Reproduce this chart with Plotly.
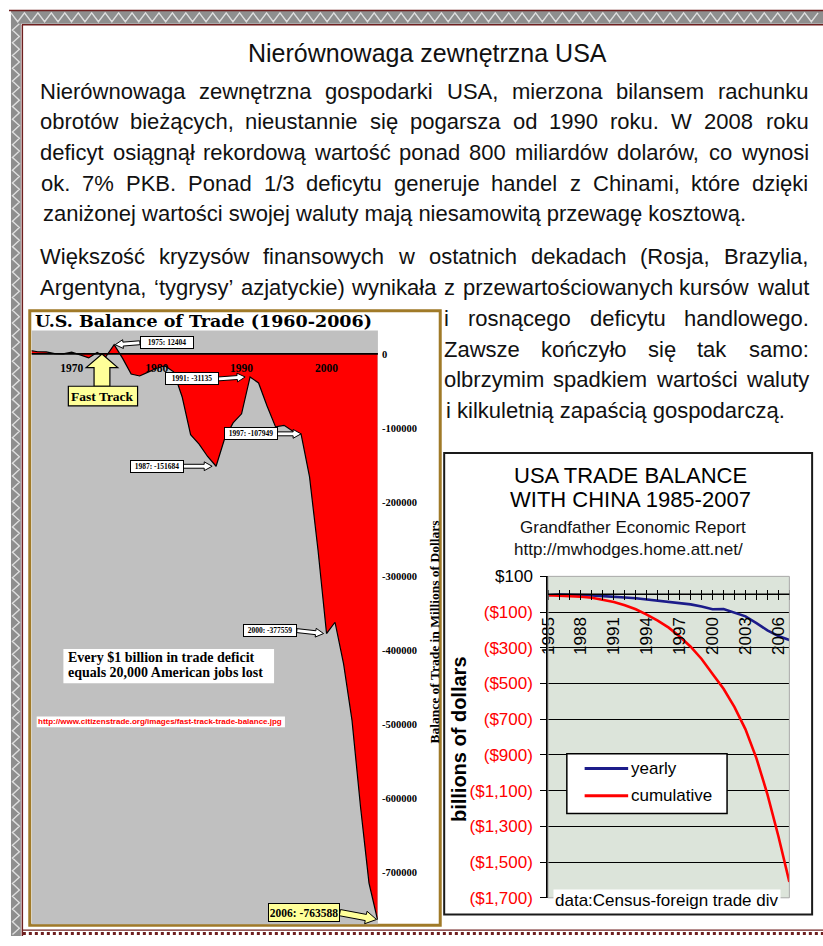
import math
import plotly.graph_objects as go

W, H = 823, 946

# ---------------- data ----------------
# U.S. balance of trade (goods & services), millions of dollars
trade_years = list(range(1965, 2007))
trade_balance = [4700, 2900, 2600, 300, 100, 2300, -1300, -5400, 1900, -4300,
                 12404, -6100, -27200, -29800, -24600, -19400, -16200, -24200, -57800, -109100,
                 -121900, -138500, -151684, -114600, -93100, -80900, -31135, -39200, -70300, -98500,
                 -96400, -104100, -107949, -166100, -265100, -377559, -362300, -418000, -494800, -611300,
                 -714400, -763588]
trade_y_ticks = [0, -100000, -200000, -300000, -400000, -500000, -600000, -700000]
trade_decades = [1970, 1980, 1990, 2000]

# U.S. trade balance with China, billions of dollars
china_years = list(range(1985, 2008))
china_yearly = [-6.0, -1.7, -2.8, -3.5, -6.2, -10.4, -12.7, -18.3, -22.8, -29.5, -33.8, -39.5,
                -49.7, -56.9, -68.7, -83.8, -83.1, -103.1, -124.1, -162.3, -202.3, -234.1, -256.2]
china_cumulative = [-6.0, -7.7, -10.5, -14.0, -20.2, -30.6, -43.3, -61.6, -84.4, -113.9, -147.7,
                    -187.2, -236.9, -293.8, -362.5, -446.3, -529.4, -632.5, -756.6, -918.9,
                    -1121.2, -1355.3, -1611.5]
china_y_ticks = [100, -100, -300, -500, -700, -900, -1100, -1300, -1500, -1700]
china_label_years = [1985, 1988, 1991, 1994, 1997, 2000, 2003, 2006]

page_title = "Nierównowaga zewnętrzna USA"
para_lines = [
    "Nierównowaga zewnętrzna gospodarki USA, mierzona bilansem rachunku",
    "obrotów bieżących, nieustannie się pogarsza od 1990 roku.  W 2008 roku",
    "deficyt osiągnął rekordową wartość ponad 800 miliardów dolarów, co wynosi",
    "ok. 7% PKB. Ponad 1/3 deficytu generuje handel z Chinami, które dzięki",
    "zaniżonej wartości swojej waluty mają niesamowitą przewagę kosztową.",
    "Większość kryzysów finansowych w ostatnich dekadach (Rosja, Brazylia,",
    "Argentyna, ‘tygrysy’ azjatyckie) wynikała z przewartościowanych kursów walut",
    "i rosnącego deficytu handlowego.",
    "Zawsze kończyło się tak samo:",
    "olbrzymim spadkiem wartości waluty",
    "i kilkuletnią zapaścią gospodarczą.",
]

SANS = "Liberation Sans, Arial, sans-serif"
SERIF = "Liberation Serif, Times New Roman, serif"
HEAVY = "DejaVu Serif, Liberation Serif, serif"


def fx(x):
    return x / W


def fy(y):
    return 1 - y / H


# Arial / Liberation Sans advance widths (1/1000 em) for justified layout
_w = {}
for chars, val in [(" ,.:;/!fIt", 278), ("ijl‘’ł", 222), ("r()-", 333), ("csvxyzkJśźżć", 500),
                   ("w", 722), ("m", 833), ("%", 889), ("M", 833), ("W", 944),
                   ("ABEKPSVXYŚ", 667), ("CDHNRUw", 722), ("GOQ", 778), ("FTZŻ", 611), ("L", 556)]:
    for ch in chars:
        _w[ch] = val


def text_w(s, size):
    return sum(_w.get(ch, 556) for ch in s) / 1000 * size


annotations = []
shapes = []


def note(text, x, y, size, family=SANS, color="#111111", xanchor="center", yanchor="middle", **kw):
    annotations.append(dict(text=text, x=fx(x), y=fy(y), xref="paper", yref="paper",
                            showarrow=False, xanchor=xanchor, yanchor=yanchor,
                            font=dict(family=family, size=size, color=color), **kw))


def rect(x0, y0, x1, y1, fill=None, line=None, lw=1, layer="below"):
    shapes.append(dict(type="rect", xref="paper", yref="paper", x0=fx(x0), x1=fx(x1),
                       y0=fy(y1), y1=fy(y0), fillcolor=fill or "rgba(0,0,0,0)",
                       line=dict(color=line or "rgba(0,0,0,0)", width=lw if line else 0),
                       layer=layer))


def poly(pts, fill=None, line="black", lw=1, closed=True, layer="above", dash=None):
    d = "M " + " L ".join(f"{fx(a):.5f},{fy(b):.5f}" for a, b in pts) + (" Z" if closed else "")
    ln = dict(color=line, width=lw)
    if dash:
        ln["dash"] = dash
    shapes.append(dict(type="path", path=d, xref="paper", yref="paper",
                       fillcolor=fill or "rgba(0,0,0,0)", line=ln, layer=layer))


def block_arrow(x0, y0, x1, y1, fill, shaft=2.0, head=4.5, head_len=8):
    dx, dy = x1 - x0, y1 - y0
    n = math.hypot(dx, dy)
    ux, uy = dx / n, dy / n
    nx, ny = -uy, ux
    bx, by = x1 - ux * head_len, y1 - uy * head_len
    pts = [(x0 + nx * shaft, y0 + ny * shaft), (bx + nx * shaft, by + ny * shaft),
           (bx + nx * head, by + ny * head), (x1, y1),
           (bx - nx * head, by - ny * head), (bx - nx * shaft, by - ny * shaft),
           (x0 - nx * shaft, y0 - ny * shaft)]
    poly(pts, fill=fill, line="black", lw=1)


def text_line(text, x0, x1, yc, size, justify=True):
    if not justify:
        note(text, x0, yc, size, xanchor="left")
        return
    words = text.split()
    ws = [text_w(w, size) for w in words]
    gap = (x1 - x0 - sum(ws)) / (len(words) - 1)
    x = x0
    for word, wd in zip(words, ws):
        note(word, x + wd / 2, yc, size)
        x += wd + gap


# ---------------- page frame ----------------
BORDER = "#6e1f1f"
rect(2, 2, 823, 15, fill="#8e8e8e")
rect(2, 2, 12, 946, fill="#8e8e8e")
zz = []
x, up = 2.0, True
while x <= 823:
    zz.append((x, 4 if up else 13))
    x += 6.8
    up = not up
poly(zz, line="#dedede", lw=1.4, closed=False, layer="below")
zz = []
y, left = 15.0, False
while y <= 946:
    zz.append((3.5 if left else 10.5, y))
    y += 6.5
    left = not left
poly(zz, line="#dedede", lw=1.4, closed=False, layer="below")
poly([(0, 1.5), (823, 1.5)], line=BORDER, lw=1.5, closed=False, layer="below")
poly([(13, 16), (823, 16)], line=BORDER, lw=1.5, closed=False, layer="below")
poly([(13.5, 16), (13.5, 946)], line=BORDER, lw=1.5, closed=False, layer="below")
poly([(14, 940), (823, 940)], line=BORDER, lw=1.2, closed=False, layer="below")
poly([(14, 943.5), (823, 943.5)], line=BORDER, lw=3, closed=False, layer="below", dash="dot")

# ---------------- page text ----------------
note(page_title, 423, 45, 25)
line_y = [84, 115, 146, 178, 209, 253, 284, 316, 347, 378, 410]
for i, t in enumerate(para_lines):
    if i < 7:
        text_line(t, 32, 808, line_y[i], 22, justify=(i != 4))
    else:
        text_line(t, 440, 808, line_y[i], 22, justify=(i != 10))

# ---------------- left chart: U.S. balance of trade ----------------
L_X0, L_X1, L_Y0, L_Y1 = 23, 373, 328, 934
L_XR = [1965.3, 2006.05]
L_YR = [-770000, 31700]


def lx(year):
    return L_X0 + (year - L_XR[0]) / (L_XR[1] - L_XR[0]) * (L_X1 - L_X0)


def ly(v):
    return L_Y0 + (L_YR[1] - v) / (L_YR[1] - L_YR[0]) * (L_Y1 - L_Y0)


rect(21, 308, 436, 935, fill="white", line="#A07A28", lw=3)
rect(L_X0, L_Y0, L_X1, L_Y1, fill="#C0C0C0")
note("<b>U.S. Balance of Trade (1960-2006)</b>", 24, 318, 17.5, family=HEAVY, color="black",
     xanchor="left")
note("<b>Balance of Trade in Millions of Dollars</b>", 430, 636, 13.5, family=SERIF,
     color="black", textangle=-90)

fig = go.Figure()
fig.add_trace(go.Scatter(x=trade_years, y=trade_balance, mode="lines",
                         line=dict(color="black", width=1.2), fill="tozeroy",
                         fillcolor="#FF0000", xaxis="x", yaxis="y", showlegend=False,
                         hoverinfo="skip"))
shapes.append(dict(type="line", xref="x domain", yref="y", x0=0, x1=1, y0=0, y1=0,
                   line=dict(color="black", width=1.6), layer="above"))


def callout(year, dx, dy, standoff, fill="white", box_w=50, box_h=9, size=7.5,
            shaft=2.0, head=4.5, head_len=8):
    v = trade_balance[trade_years.index(year)]
    px, py = lx(year), ly(v)
    cx, cy = px + dx, py + dy
    side = 1 if dx > 0 else -1
    half = box_w / 2 + 2
    block_arrow(cx - side * half, cy, px + side * standoff, py, fill, shaft, head, head_len)
    annotations.append(dict(x=fx(cx), y=fy(cy), xref="paper", yref="paper", showarrow=False,
                            xanchor="center", yanchor="middle",
                            text=f"<b>{year}: {v}</b>", bgcolor=fill, bordercolor="black",
                            borderwidth=1, borderpad=1, width=box_w, height=box_h,
                            font=dict(family=SERIF, size=size, color="black")))


callout(1975, 53, -2, 1)
callout(1991, -59, 2, 5)
callout(1997, -51, 0, 0)
callout(1987, -60, 0, 4)
callout(2000, -57, -3, 3)
callout(2006, -74, -7, 1, fill="#FFFF99", box_w=68, box_h=15, size=11.5, shaft=3.2,
        head=6.5, head_len=11)

# Fast Track marker
poly([(94, 352), (110, 366), (102, 366), (102, 385), (86, 385), (86, 366), (78, 366)],
     fill="#FFFF99", line="black", lw=1.2)
rect(60, 385, 130, 405, fill="#FFFF99", line="black", lw=1.2, layer="above")
note("<b>Fast Track</b>", 95, 395, 13.5, family=SERIF, color="black")

# jobs note and source
rect(55, 653, 268, 688, fill="white", layer="above")
note("<b>Every $1 billion in trade deficit</b>", 58, 662, 14, family=SERIF, color="black",
     xanchor="left")
note("<b>equals 20,000 American jobs lost</b>", 58, 677, 14, family=SERIF, color="black",
     xanchor="left")
rect(28, 722, 279, 733, fill="white", layer="above")
note("<b>http://www.citizenstrade.org/images/fast-track-trade-balance.jpg</b>", 153, 727.5, 8,
     color="#FF0000")

# ---------------- right chart: trade balance with China ----------------
rect(440, 453, 812, 924, fill="white", line="#1a1a1a", lw=2)
rect(545, 579, 789, 907, fill="#DCE4DA")
rect(545, 579, 789, 907, line="#a8a8a8", lw=1, layer="above")
note("USA TRADE BALANCE", 628, 476, 22, color="black")
note("WITH CHINA 1985-2007", 628, 501, 22, color="black")
note("Grandfather Economic Report", 631, 529, 17, color="#111")
note("http://mwhodges.home.att.net/", 626, 552, 17, color="#111")
note("<b>billions of dollars</b>", 455, 745, 20, color="black", textangle=-90)

fig.add_trace(go.Scatter(x=china_years, y=china_yearly, mode="lines", name="yearly",
                         line=dict(color="#1c1c8a", width=2.6), xaxis="x2", yaxis="y2",
                         showlegend=False, hoverinfo="skip"))
fig.add_trace(go.Scatter(x=china_years, y=china_cumulative, mode="lines", name="cumulative",
                         line=dict(color="#FF0000", width=2.6), xaxis="x2", yaxis="y2",
                         showlegend=False, hoverinfo="skip"))
shapes.append(dict(type="line", xref="x2 domain", yref="y2", x0=0, x1=1, y0=0, y1=0,
                   line=dict(color="black", width=1.6), layer="above"))

# legend box
rect(564, 760, 726, 821, fill="white", line="black", lw=1.5, layer="above")
poly([(582, 775), (626, 775)], line="#1c1c8a", lw=3, closed=False)
poly([(582, 803), (626, 803)], line="#FF0000", lw=3, closed=False)
note("yearly", 627, 775, 17, color="black", xanchor="left")
note("cumulative", 627, 803, 17, color="black", xanchor="left")

note("data:Census-foreign trade div", 665, 910, 17, color="black", bgcolor="white",
     borderpad=1)

# axis geometry for the China chart
c_top, c_bot = 579, 907
c_lo, c_hi = china_y_ticks[-1], china_y_ticks[0]
zero_px = c_top + (c_hi - 0) / (c_hi - c_lo) * (c_bot - c_top)

china_tick_text = []
for v in china_y_ticks:
    if v >= 0:
        china_tick_text.append(f"${v:,}")
    else:
        china_tick_text.append(f'<span style="color:#FF0000">(${abs(v):,})</span>')

fig.update_layout(
    width=W, height=H, autosize=False,
    margin=dict(l=0, r=0, t=0, b=0),
    paper_bgcolor="white", plot_bgcolor="rgba(0,0,0,0)",
    showlegend=False,
    xaxis=dict(domain=[fx(L_X0), fx(L_X1)], range=L_XR, anchor="free",
               position=fy(358), tickmode="array", tickvals=trade_decades, ticks="",
               showline=False, showgrid=False, zeroline=False,
               tickfont=dict(family=SERIF, size=11.5, color="black", weight="bold")),
    yaxis=dict(domain=[fy(L_Y1), fy(L_Y0)], range=L_YR, anchor="x", side="right",
               tickmode="array", tickvals=trade_y_ticks,
               ticktext=[str(v) for v in trade_y_ticks], ticks="", showline=False,
               showgrid=False, zeroline=False, ticklabelstandoff=3,
               tickfont=dict(family=SERIF, size=10.5, color="black", weight="bold")),
    xaxis2=dict(domain=[fx(545), fx(789)], range=[1985, 2007], anchor="free",
                position=fy(zero_px - 5), tickmode="array", tickvals=china_years,
                ticktext=[str(y) if y in china_label_years else "" for y in china_years],
                tickangle=-90, ticks="outside", ticklen=10, tickwidth=1.3, tickcolor="black",
                showline=False, showgrid=False, zeroline=False, ticklabelstandoff=10,
                tickfont=dict(family=SANS, size=17, color="black")),
    yaxis2=dict(domain=[fy(c_bot), fy(c_top)], range=[c_lo, c_hi], anchor="x2", side="left",
                tickmode="array", tickvals=china_y_ticks, ticktext=china_tick_text,
                ticks="outside", ticklen=6, tickcolor="black", tickwidth=1.3,
                showgrid=True, gridcolor="black", gridwidth=1.3,
                showline=True, linecolor="black", linewidth=1.5, zeroline=False,
                ticklabelstandoff=4, tickfont=dict(family=SANS, size=17, color="black")),
    shapes=shapes,
    annotations=annotations,
)

fig.write_html("out.html", config={"displayModeBar": False})
